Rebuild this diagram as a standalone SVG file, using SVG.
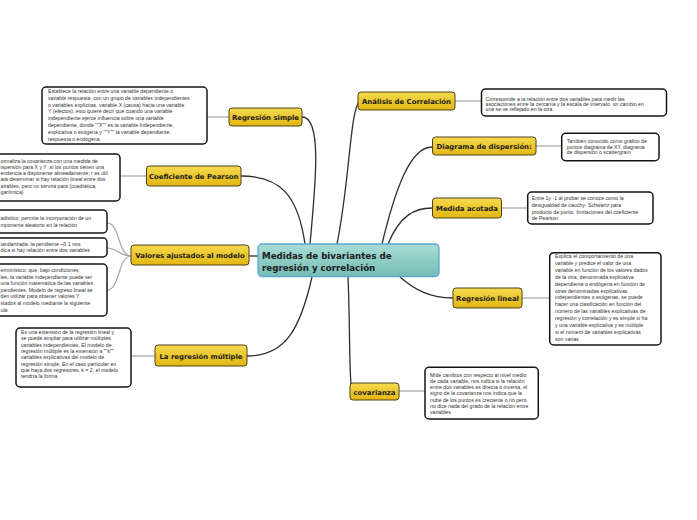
<svg xmlns="http://www.w3.org/2000/svg" width="697" height="520" viewBox="0 0 697 520">
<defs>
<linearGradient id="gy" x1="0" y1="0" x2="0" y2="1">
<stop offset="0" stop-color="#f6da4e"/>
<stop offset="1" stop-color="#e2b612"/>
</linearGradient>
<linearGradient id="gc" x1="0" y1="0" x2="0" y2="1">
<stop offset="0" stop-color="#a9dcd5"/>
<stop offset="1" stop-color="#74bdb4"/>
</linearGradient>
</defs>
<style>
.y{fill:url(#gy);stroke:#4d4220;stroke-width:1}
.ys{fill:#b8b8b8}
.yt{font-family:"DejaVu Sans",Verdana,sans-serif;font-weight:bold;font-size:6.9px;fill:#1a1a1a;text-anchor:middle}
.b{fill:#fff;stroke:#151515;stroke-width:1.5}
.bt{font-family:"Liberation Sans",Arial,sans-serif;font-size:5.2px;fill:#333}
.c{fill:none;stroke:#2e2e2e;stroke-width:1.3}
.g{fill:none;stroke:#a6a6a6;stroke-width:1.2}
</style>
<rect width="697" height="520" fill="#fff"/>
<g id="connectors">
<path class="c" d="M310,244 C316,180 322,117 302,117"/>
<path class="c" d="M305,244 C298,195 280,176 241,176"/>
<path class="c" d="M337,244 C350,180 350,108 360,101"/>
<path class="c" d="M382,244 C395,190 410,147 432,147"/>
<path class="c" d="M388,244 C400,215 415,208 432,208"/>
<path class="c" d="M249,256 L258,256"/>
<path class="c" d="M312,277 C300,330 285,356 247,356"/>
<path class="c" d="M348,277 C350,320 349,360 351,384"/>
<path class="c" d="M400,277 C415,290 430,298 453,298"/>
<path class="g" d="M229,117 L207,117"/>
<path class="g" d="M146,176 L120,176"/>
<path class="g" d="M131,256 C118,256 120,223 107,223"/>
<path class="g" d="M131,256 C118,256 118,248 107,248"/>
<path class="g" d="M131,256 C118,256 120,290 107,290"/>
<path class="g" d="M155,356 L131,356"/>
<path class="g" d="M455,101 L481,101"/>
<path class="g" d="M536,146 L562,146"/>
<path class="g" d="M502,208 L528,208"/>
<path class="g" d="M522,298 L550,298"/>
<path class="g" d="M399,391 L425,391"/>
</g>
<g id="center">
<rect x="258" y="244" width="181" height="32.5" rx="4" fill="url(#gc)" stroke="#5aa6d8" stroke-width="1.3"/>
<text x="262" y="259" font-family="'DejaVu Sans',Verdana,sans-serif" font-weight="bold" font-size="8.7" fill="#1a1a1a">Medidas de bivariantes de</text>
<text x="262" y="270.5" font-family="'DejaVu Sans',Verdana,sans-serif" font-weight="bold" font-size="8.7" fill="#1a1a1a">regresión y correlación</text>
</g>
<g id="regresion-simple">
<rect class="y" x="229" y="108" width="73" height="18" rx="3"/>
<text class="yt" x="265.5" y="119.5">Regresión simple</text>
</g>
<g id="regresion-simple-nota">
<rect class="b" x="42" y="87" width="165" height="57" rx="4"/>
<text class="bt" font-size="5.6" x="48" y="93">
<tspan x="48" y="93">Establece la relación entre una variable  dependiente o</tspan>
<tspan x="48" y="99.8">variable respuesta, con un grupo de variables independientes</tspan>
<tspan x="48" y="106.6">o variables explícitas.  variable X (causa) hacia una variable</tspan>
<tspan x="48" y="113.4">Y (efectos). esto quiere decir que cuando una variable</tspan>
<tspan x="48" y="120.2">independiente ejerce influencia sobre una variable</tspan>
<tspan x="48" y="127">dependiente, donde ""X"" es la variable Independiente,</tspan>
<tspan x="48" y="133.8">explicativa o exógena y ""Y"" la variable dependiente,</tspan>
<tspan x="48" y="140.6">respuesta o endógena.</tspan>
</text>
</g>
<g id="pearson">
<rect class="y" x="146.5" y="166" width="94.5" height="20" rx="3"/>
<text class="yt" x="193.7" y="178.5">Coeficiente de Pearson</text>
</g>
<g id="pearson-nota">
<rect class="b" x="-5" y="154" width="125" height="47" rx="4"/>
<text class="bt">
<tspan x="0.5" y="162.5">ormaliza la covarianza con una medida de</tspan>
<tspan x="0.5" y="168.8">ispersión para X y Y ,si los puntos tienen una</tspan>
<tspan x="0.5" y="175.1">endencia a disponerse alineadamente; r es útil</tspan>
<tspan x="0.5" y="181.4">ara determinar si hay relación lineal entre dos</tspan>
<tspan x="0.5" y="187.7">ariables, pero no servirá para (cuadrática,</tspan>
<tspan x="0.5" y="194">garítmica)</tspan>
</text>
</g>
<g id="valores">
<rect class="y" x="131" y="245" width="118" height="20" rx="3"/>
<text class="yt" x="190" y="257.5">Valores ajustados al modelo</text>
</g>
<g id="valores-nota-1">
<rect class="b" x="-5" y="210" width="112" height="23" rx="4"/>
<text class="bt">
<tspan x="0.5" y="220">adístico: permite la incorporación de un</tspan>
<tspan x="0.5" y="226.7">mponente aleatorio en la relación</tspan>
</text>
</g>
<g id="valores-nota-2">
<rect class="b" x="-5" y="238" width="112" height="19" rx="4"/>
<text class="bt">
<tspan x="0.5" y="245.5">tandarizada: la pendiente ¬ß 1 nos</tspan>
<tspan x="0.5" y="252">dica si hay relación entre dos variables</tspan>
</text>
</g>
<g id="valores-nota-3">
<rect class="b" x="-5" y="264" width="112" height="52" rx="4"/>
<text class="bt">
<tspan x="0.5" y="272">erminístico:  que, bajo condiciones</tspan>
<tspan x="0.5" y="278.6">les, la variable independiente puede ser</tspan>
<tspan x="0.5" y="285.2">una función matemática de las variables</tspan>
<tspan x="0.5" y="291.8">pendientes, Modelo de regreso lineal se</tspan>
<tspan x="0.5" y="298.4">den utilizar para obtener valores Y</tspan>
<tspan x="0.5" y="305">stados al modelo mediante la siguiente</tspan>
<tspan x="0.5" y="311.6">ula</tspan>
</text>
</g>
<g id="regresion-multiple">
<rect class="y" x="155" y="345" width="92" height="21" rx="3"/>
<text class="yt" x="201" y="358.5">La regresión múltiple</text>
</g>
<g id="regresion-multiple-nota">
<rect class="b" x="16" y="328" width="115" height="59" rx="4"/>
<text class="bt">
<tspan x="21" y="334">Es una extensión de la regresión lineal y</tspan>
<tspan x="21" y="340.3">se puede ampliar para utilizar múltiples</tspan>
<tspan x="21" y="346.6">variables independientes, El modelo de</tspan>
<tspan x="21" y="352.9">regresión múltiple es la extensión a ""k""</tspan>
<tspan x="21" y="359.2">variables explicativas del modelo de</tspan>
<tspan x="21" y="365.5">regresión simple, En el caso particular en</tspan>
<tspan x="21" y="371.8">que haya dos regresores, k = 2, el modelo</tspan>
<tspan x="21" y="378.1">tendría la forma</tspan>
</text>
</g>
<g id="analisis">
<rect class="y" x="358" y="92" width="97" height="18" rx="3"/>
<text class="yt" x="406.5" y="103.5">Análisis de Correlación</text>
</g>
<g id="analisis-nota">
<rect class="b" x="481.5" y="89" width="185" height="27" rx="4"/>
<text class="bt">
<tspan x="485.5" y="100.7">Corresponde a la relación entre dos variables para medir las</tspan>
<tspan x="485.5" y="106">asociaciones entre  la cercanía y la escala de intervalo, un cambio en</tspan>
<tspan x="485.5" y="111.4">una se ve reflejado en la otra</tspan>
</text>
</g>
<g id="diagrama">
<rect class="y" x="432.5" y="137" width="103.5" height="18" rx="3"/>
<text class="yt" x="484.2" y="148.5">Diagrama de dispersión:</text>
</g>
<g id="diagrama-nota">
<rect class="b" x="561.7" y="133.3" width="97.3" height="27.4" rx="4"/>
<text class="bt">
<tspan x="566.7" y="142.7">También conocido como gráfico de</tspan>
<tspan x="566.7" y="148.5">puntos diagrama de XY, diagrama</tspan>
<tspan x="566.7" y="154.3">de dispersión o scattergram</tspan>
</text>
</g>
<g id="medida">
<rect class="y" x="432.5" y="198" width="69" height="20" rx="3"/>
<text class="yt" x="467" y="210.5">Medida acotada</text>
</g>
<g id="medida-nota">
<rect class="b" x="527.7" y="192" width="125.3" height="32" rx="4"/>
<text class="bt">
<tspan x="531.7" y="200.4">Entre 1y -1  al probar se conoce como la</tspan>
<tspan x="531.7" y="207">desigualdad de cauchy- Schwartz  para</tspan>
<tspan x="531.7" y="213.7">producto de punto, limitaciones del coeficiente</tspan>
<tspan x="531.7" y="220.4">de Pearson</tspan>
</text>
</g>
<g id="regresion-lineal">
<rect class="y" x="453" y="288" width="69" height="20" rx="3"/>
<text class="yt" x="487.5" y="300.5">Regresión lineal</text>
</g>
<g id="regresion-lineal-nota">
<rect class="b" x="549.7" y="252.7" width="111.3" height="92.3" rx="4"/>
<text class="bt">
<tspan x="555" y="258">Explica el comportamiento de una</tspan>
<tspan x="555" y="264.9">variable y predice el valor de una</tspan>
<tspan x="555" y="271.8">variable en función de los valores dados</tspan>
<tspan x="555" y="278.7">de la otra, denominada explicativa</tspan>
<tspan x="555" y="285.6">dependiente o endógena en función de</tspan>
<tspan x="555" y="292.5">otras denominadas explicativas</tspan>
<tspan x="555" y="299.4">independientes o exógenas, se puede</tspan>
<tspan x="555" y="306.3">hacer una clasificación en función del</tspan>
<tspan x="555" y="313.2">número de las variables explicativas de</tspan>
<tspan x="555" y="320.1">regresión y correlación y es simple si ha</tspan>
<tspan x="555" y="327">y una  variable explicativa  y es múltiple</tspan>
<tspan x="555" y="333.9">si el número de variables explicativas</tspan>
<tspan x="555" y="340.8">son varias</tspan>
</text>
</g>
<g id="covarianza">
<rect class="y" x="350" y="383" width="49" height="17" rx="3"/>
<text class="yt" x="374.5" y="394.5">covarianza</text>
</g>
<g id="covarianza-nota">
<rect class="b" x="425" y="367.3" width="113.3" height="51.7" rx="4"/>
<text class="bt">
<tspan x="430" y="376.5">Mide cambios con respecto al nivel medio</tspan>
<tspan x="430" y="382.8">de cada variable, nos indica si la relación</tspan>
<tspan x="430" y="389.1">entre dos variables es directa o inversa, el</tspan>
<tspan x="430" y="395.4">signo de la covarianza nos indica que la</tspan>
<tspan x="430" y="401.7">nube de los puntos es creciente o no pero</tspan>
<tspan x="430" y="408">no dice nada del grado de la relación entre</tspan>
<tspan x="430" y="414.3">variables</tspan>
</text>
</g>
</svg>
